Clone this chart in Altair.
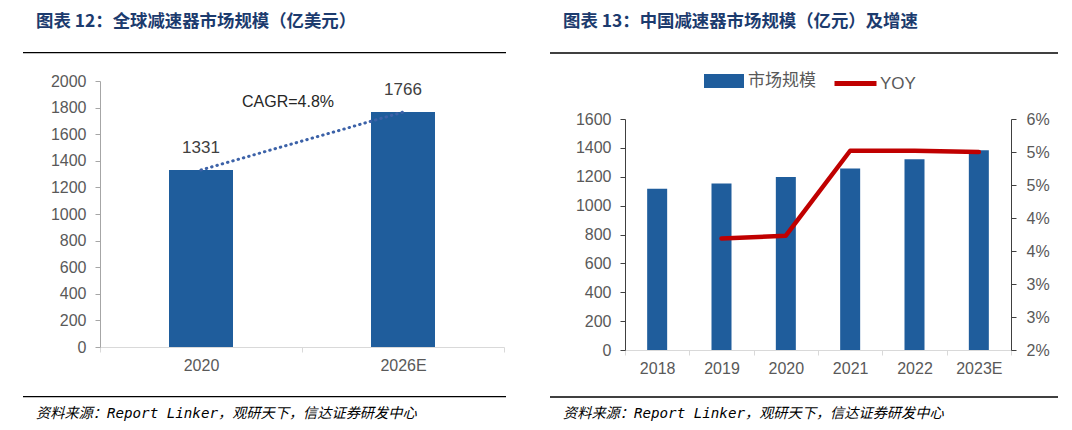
import altair as alt
import pandas as pd

# ---------------- data ----------------
g_years = ["2020", "2026E"]
g_values = [1331, 1766]
cagr_text = "CAGR=4.8%"

c_years = ["2018", "2019", "2020", "2021", "2022", "2023E"]
c_values = [1117, 1154, 1198, 1258, 1321, 1383]
c_yoy = [None, 3.93, 3.98, 5.45, 5.45, 5.43]
bar_series = "市场规模"
line_series = "YOY"

left_title = "图表 12：全球减速器市场规模（亿美元）"
right_title = "图表 13：中国减速器市场规模（亿元）及增速"
source_text = "资料来源：Report Linker，观研天下，信达证券研发中心"

# ---------------- style ----------------
NUM = "Liberation Sans, Noto Sans CJK SC"
CJK = "Noto Sans CJK SC"
SRC = "DejaVu Sans Mono, Noto Sans CJK SC"
BLUE = "#1F5D9C"
RED = "#C00000"
TITLE = "#1C3B6E"
LAB = "#595959"

one = pd.DataFrame({"d": [0]})


def deco(x0, x1, y_top, y_bot, tx, ty_title, ty_src, title):
    top_rule = alt.Chart(one).mark_rule(color="black", strokeWidth=1.3).encode(
        x=alt.value(x0), x2=alt.value(x1), y=alt.value(y_top))
    bot_rule = alt.Chart(one).mark_rule(color="black", strokeWidth=1.3).encode(
        x=alt.value(x0), x2=alt.value(x1), y=alt.value(y_bot))
    ttl = alt.Chart(one).mark_text(align="left", baseline="middle", font=CJK, fontSize=17.4,
                                   fontWeight="bold", color=TITLE).encode(
        x=alt.value(tx), y=alt.value(ty_title), text=alt.value(title))
    src = alt.Chart(one).mark_text(align="left", baseline="middle", font=SRC, fontSize=14.2,
                                   fontStyle="italic", color="black").encode(
        x=alt.value(tx), y=alt.value(ty_src), text=alt.value(source_text))
    return [top_rule, bot_rule, ttl, src]


# ---------------- left panel (plot area 99..503 x 80..346) ----------------
dfL = pd.DataFrame({"year": g_years, "value": g_values})
xL = alt.X("year:N", sort=g_years, scale=alt.Scale(paddingInner=0, paddingOuter=0),
           axis=alt.Axis(title=None, labelAngle=0, tickBand="extent", domainColor="#D9D9D9",
                         tickColor="#D9D9D9", tickSize=5, labelPadding=5, labelFontSize=16,
                         labelColor=LAB, labelFont=NUM))
yL = alt.Y("value:Q", scale=alt.Scale(domain=[0, 2000]),
           axis=alt.Axis(title=None, values=list(range(0, 2001, 200)), grid=False, format="d",
                         domainColor="#A6A6A6", tickColor="#A6A6A6", tickSize=5, labelPadding=9,
                         labelFontSize=16, labelColor=LAB, labelFont=NUM))

barsL = alt.Chart(dfL).mark_bar(width=64, color=BLUE).encode(x=xL, y=yL)
cagrL = alt.Chart(dfL).mark_line(color="#3C62A8", strokeWidth=3, strokeDash=[0.5, 5],
                                 strokeCap="round").encode(x=xL, y=yL)
labelsL = alt.Chart(dfL).mark_text(dy=-22, fontSize=17, font=NUM, color="#404040").encode(
    x=xL, y=yL, text=alt.Text("value:Q", format="d"))
cagrT = alt.Chart(one).mark_text(fontSize=16, font=NUM, color="#262626").encode(
    x=alt.value(188), y=alt.value(21), text=alt.value(cagr_text))

left = alt.layer(barsL, cagrL, labelsL, cagrT,
                 *deco(-77, 406, -28.3, 315.7, -64, -59.5, 333, left_title)).properties(
    width=404, height=266)

# ---------------- right panel (group 622..1008 x 80..349, axes 118..349) ----------------
dfR = pd.DataFrame({"year": c_years, "value": c_values, "yoy": c_yoy})
dfR["s1"] = bar_series
dfR["s2"] = line_series

H_R = 269
TOP_R = 38

xR = alt.X("year:N", sort=c_years, scale=alt.Scale(paddingInner=0, paddingOuter=0),
           axis=alt.Axis(title=None, labelAngle=0, tickBand="extent", domainColor="#D9D9D9",
                         tickColor="#D9D9D9", tickSize=5, labelPadding=5, labelFontSize=16,
                         labelColor=LAB, labelFont=NUM))

barsR = alt.Chart(dfR).mark_bar(width=20).encode(
    x=xR,
    y=alt.Y("value:Q", scale=alt.Scale(domain=[0, 1600], range=[H_R, TOP_R]),
            axis=alt.Axis(title=None, orient="left", values=list(range(0, 1601, 200)), grid=False,
                          format="d",
                          domainColor="#404040", tickColor="#404040", tickSize=5, labelPadding=9,
                          labelFontSize=16, labelColor=LAB, labelFont=NUM)),
    fill=alt.Fill("s1:N", scale=alt.Scale(domain=[bar_series], range=[BLUE]),
                  legend=alt.Legend(title=None, orient="none", legendX=79, legendY=-20,
                                    symbolType="M-1,-0.35H1V0.35H-1Z", symbolSize=1600,
                                    symbolStrokeWidth=0, labelOffset=4, labelFontSize=17,
                                    labelColor=LAB, labelFont=NUM)),
)

yoy_ticks = [2 + i * 4 / 7 for i in range(8)]
lineR = alt.Chart(dfR).transform_filter("isValid(datum.yoy)").mark_line(
    strokeWidth=4.5, strokeCap="round", strokeJoin="round").encode(
    x=xR,
    y=alt.Y("yoy:Q", scale=alt.Scale(domain=[2, 6], range=[H_R, TOP_R]),
            axis=alt.Axis(title=None, orient="right", values=yoy_ticks, grid=False,
                          labelExpr="round(datum.value) + '%'",
                          domainColor="#404040", tickColor="#404040", tickSize=5, labelPadding=10,
                          labelFontSize=16, labelColor=LAB, labelFont=NUM)),
    stroke=alt.Stroke("s2:N", scale=alt.Scale(domain=[line_series], range=[RED]),
                      legend=alt.Legend(title=None, orient="none", legendX=207, legendY=-21,
                                        symbolType="stroke", symbolSize=1764,
                                        symbolStrokeWidth=5, labelOffset=1, labelFontSize=17,
                                        labelColor=LAB, labelFont=NUM)),
)

right = alt.layer(barsR, lineR,
                  *deco(-75, 433, -28, 316, -62, -59.5, 333, right_title)).resolve_scale(
    y="independent").properties(width=386, height=H_R)

chart = alt.hconcat(left, right, spacing=42).resolve_scale(
    fill="independent", stroke="independent"
).resolve_legend(
    fill="independent", stroke="independent"
).properties(
    padding={"left": 14, "top": 4, "right": 0, "bottom": 0}
).configure_view(stroke=None)

chart.save("out.html", embed_options={"renderer": "svg", "actions": False})
